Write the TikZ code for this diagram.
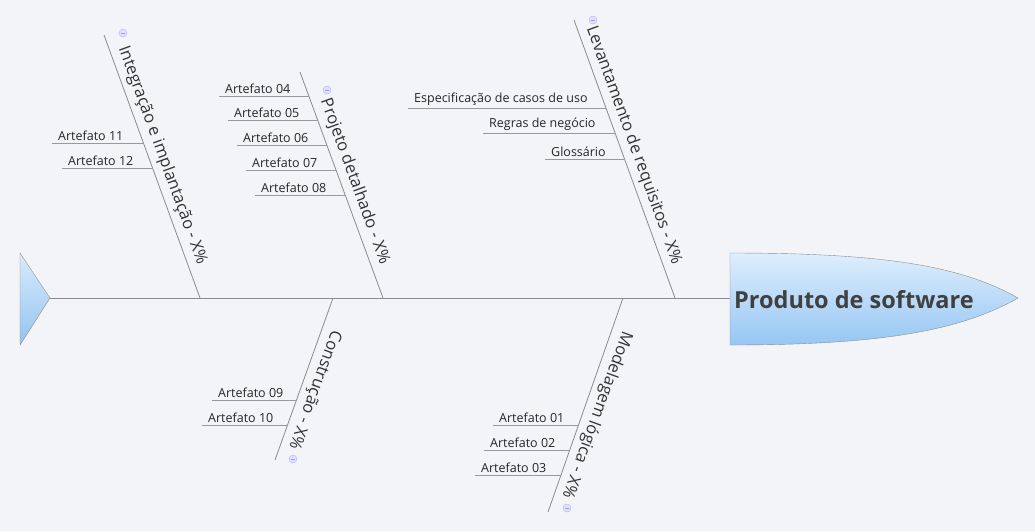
\documentclass[tikz,border=0pt]{standalone}
\usepackage{fontspec}
\setmainfont{Open Sans}
\begin{document}
\begin{tikzpicture}[x=1pt,y=-1pt,
  ln/.style={draw=black!45,line width=0.8pt},
  sub/.style={draw=black!40,line width=0.7pt},
  bonelbl/.style={font=\fontsize{16.5}{19}\selectfont,text=black!80,anchor=south,inner sep=5pt},
  sublbl/.style={font=\fontsize{12.5}{14}\selectfont,text=black!85,anchor=south west,inner sep=2pt},
  mini/.style={circle,draw=blue!30,fill=blue!12,minimum size=8pt,inner sep=0pt,
    path picture={\draw[blue!40,line width=0.5pt] ([xshift=-2pt]path picture bounding box.center)--([xshift=2pt]path picture bounding box.center);}}]
\fill[fill={rgb,255:red,243;green,244;blue,248}] (0,0) rectangle (1035,531);
\useasboundingbox (0,0) rectangle (1035,531);
% tail
\coordinate (t1) at (20,253); \coordinate (t2) at (50,298); \coordinate (t3) at (20,345);
\shade[top color={rgb,255:red,215;green,235;blue,252},bottom color={rgb,255:red,150;green,195;blue,240},draw=black!45] (t1)--(t2)--(t3)--cycle;
% head
\coordinate (h0) at (730,298);
\shade[top color={rgb,255:red,222;green,238;blue,253},bottom color={rgb,255:red,150;green,198;blue,243},draw=black!45]
 (730,253) .. controls (880,253) and (960,265) .. (1018,298) .. controls (960,331) and (880,345) .. (730,345) -- cycle;
\node[font=\fontsize{23.5}{26}\selectfont\bfseries,text=black!75,anchor=west,inner sep=0pt] (head) at (734,300) {Produto de software};
% spine
\draw[ln] (t2) -- (h0);
% bones
\coordinate (b1t) at (104,35);  \coordinate (b1b) at (200,298);
\coordinate (b2t) at (300,72);  \coordinate (b2b) at (383,298);
\coordinate (b3t) at (574,20);  \coordinate (b3b) at (675,298);
\coordinate (b4t) at (333,298); \coordinate (b4b) at (275,460);
\coordinate (b5t) at (623,298); \coordinate (b5b) at (548,512);
\foreach \b in {1,...,5}{\draw[ln] (b\b t) -- (b\b b);}
\node[bonelbl,rotate=-70] (l1) at (149.6,160) {Integração e implantação - X\%};
\node[bonelbl,rotate=-70] (l2) at (342,186) {Projeto detalhado - X\%};
\node[bonelbl,rotate=-70] (l3) at (621,150) {Levantamento de requisitos - X\%};
\node[bonelbl,rotate=-110] (l4) at (302,385) {Construção - X\%};
\node[bonelbl,rotate=-110] (l5) at (584,410) {Modelagem lógica - X\%};
\node[mini] (m1) at (123,33) {};
\node[mini] (m2) at (327,90) {};
\node[mini] (m3) at (593,20) {};
\node[mini] (m4) at (293,459) {};
\node[mini] (m5) at (567,508) {};
% sub-branches
\foreach \n/\sx/\y/\ex/\t in {
 a11/52/143/143/Artefato 11, a12/62/168/152/Artefato 12,
 a4/219/96/309/Artefato 04, a5/228/120/318/Artefato 05, a6/237/145/327/Artefato 06,
 a7/246/170/336/Artefato 07, a8/255/195/345/Artefato 08,
 r1/408/108/606/Especificação de casos de uso, r2/483/133/615/Regras de negócio, r3/545/159/624/Glossário,
 a9/212/400/296.5/Artefato 09, a10/202/425/287.5/Artefato 10,
 a1/493/425/578.5/Artefato 01, a2/484/450/570/Artefato 02, a3/475/475/561/Artefato 03}{
 \coordinate (\n s) at (\sx,\y); \coordinate (\n e) at (\ex,\y);
 \draw[sub] (\n s) -- (\n e);
 \node[sublbl] (\n) at ([xshift=4pt]\n s) {\t};
}
\end{tikzpicture}
\end{document}
